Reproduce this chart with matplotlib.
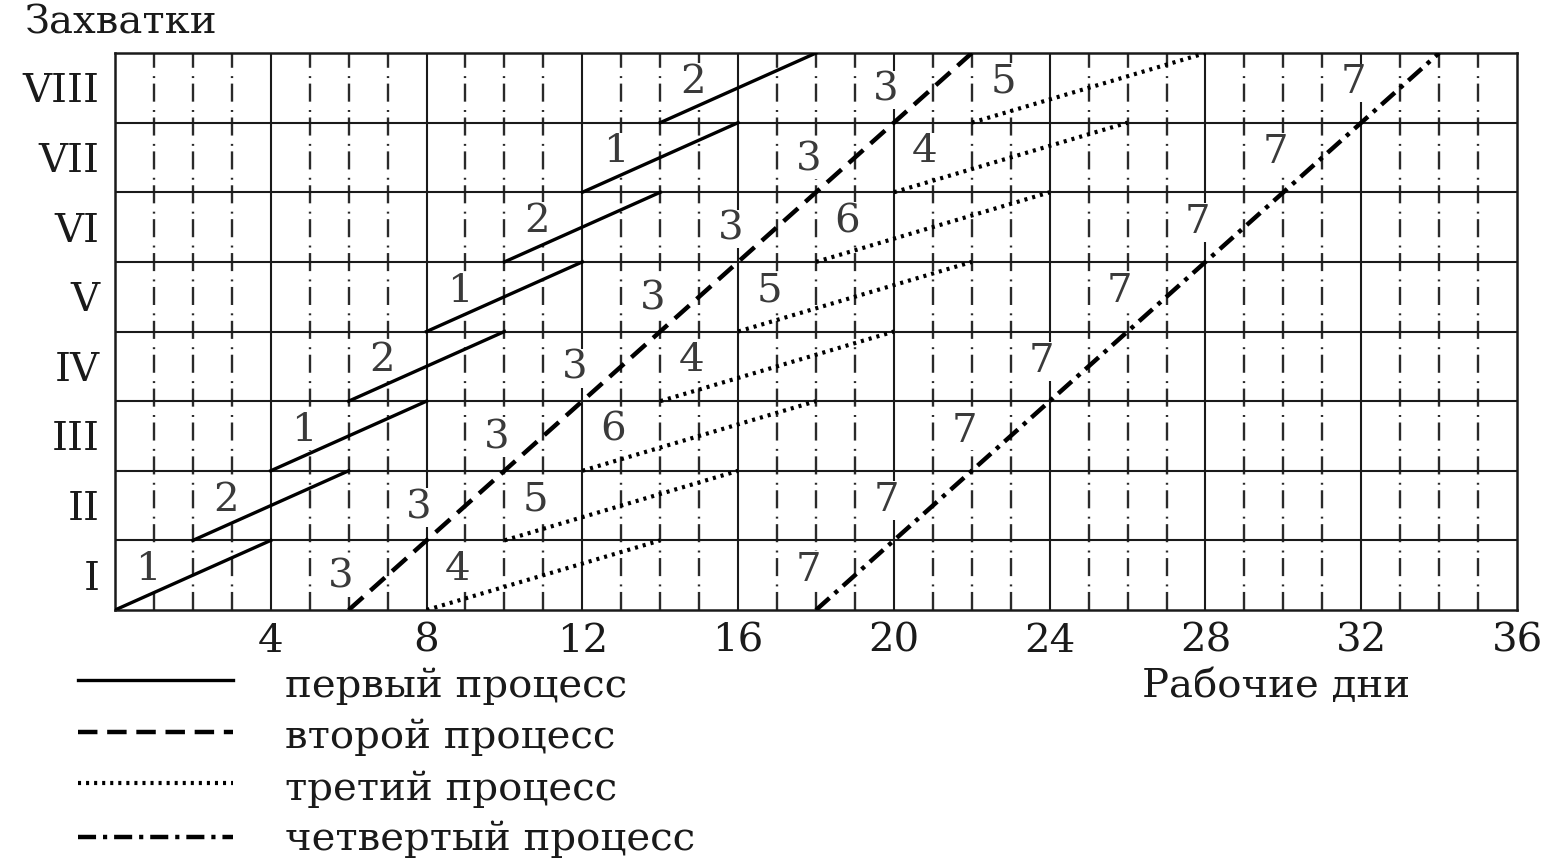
import matplotlib.pyplot as plt
from matplotlib.lines import Line2D

plt.rcParams['font.family'] = ['DejaVu Serif']
plt.rcParams['lines.scale_dashes'] = False

# data
rows = ['I', 'II', 'III', 'IV', 'V', 'VI', 'VII', 'VIII']
day_ticks = [4, 8, 12, 16, 20, 24, 28, 32, 36]
n_days = 36

# first process: two crews (1, 2), 4 days on each захватка
p1_start = [0, 2, 4, 6, 8, 10, 12, 14]
p1_dur = 4
p1_crew = ['1', '2', '1', '2', '1', '2', '1', '2']

# second process: one crew (3), 2 days on each захватка
p2_start = [6, 8, 10, 12, 14, 16, 18, 20]
p2_dur = 2
p2_crew = ['3', '3', '3', '3', '3', '3', '3', '3']

# third process: three crews (4, 5, 6), 6 days on each захватка
p3_start = [8, 10, 12, 14, 16, 18, 20, 22]
p3_dur = 6
p3_crew = ['4', '5', '6', '4', '5', '6', '4', '5']

# fourth process: one crew (7), 2 days on each захватка
p4_start = [18, 20, 22, 24, 26, 28, 30, 32]
p4_dur = 2
p4_crew = ['7', '7', '7', '7', '7', '7', '7', '7']

legend_names = ['первый процесс', 'второй процесс', 'третий процесс', 'четвертый процесс']

# styles
fs = 29
ink = '#1a1a1a'
lab_col = '#3a3a3a'
st1 = dict(color='black', lw=2.4, linestyle='-')
st2 = dict(color='black', lw=3.2, linestyle=(0, (14, 7)))
st3 = dict(color='black', lw=3.0, linestyle=(0, (2.2, 3.6)))
st4 = dict(color='black', lw=3.2, linestyle=(0, (13, 5, 3, 5)))

fig = plt.figure(figsize=(15.58, 8.61), dpi=100)
ax = fig.add_axes([0.0738, 0.2915, 0.8999, 0.6469])
ax.set_xlim(0, n_days)
ax.set_ylim(0, len(rows))

# grid
for d in range(1, n_days):
    if d % 4 == 0:
        ax.plot([d, d], [0, len(rows)], color=ink, lw=1.5, zorder=1)
    else:
        ax.plot([d, d], [0, len(rows)], color='#2a2a2a', lw=1.7,
                linestyle=(0, (13, 4, 1.4, 6)), zorder=1)
for r in range(1, len(rows)):
    ax.plot([0, n_days], [r, r], color=ink, lw=1.5, zorder=1)
for s in ax.spines.values():
    s.set_linewidth(1.8)
    s.set_color(ink)


def label(x, y, t):
    ax.text(x, y, t, fontsize=fs, color=lab_col, ha='center', va='center',
            zorder=3, bbox=dict(facecolor='white', edgecolor='none', pad=0.5))


# first and third processes: separate crews, separate segments
for starts, dur, crews, st, dx in [(p1_start, p1_dur, p1_crew, st1, 0.85),
                                    (p3_start, p3_dur, p3_crew, st3, 0.8)]:
    for i, s in enumerate(starts):
        ax.plot([s, s + dur], [i, i + 1], zorder=4, **st)
        label(s + dx, i + 0.58, crews[i])

# second and fourth processes: one crew, continuous line
for starts, dur, crews, st, dy in [(p2_start, p2_dur, p2_crew, st2, 0.47),
                                    (p4_start, p4_dur, p4_crew, st4, 0.57)]:
    xs = starts + [starts[-1] + dur]
    ax.plot(xs, list(range(len(xs))), zorder=4, **st)
    for i, s in enumerate(starts):
        label(s - 0.2, i + dy, crews[i])

ax.set_xticks(day_ticks)
ax.set_xticklabels([str(d) for d in day_ticks], fontsize=fs, color=ink)
ax.set_yticks([r + 0.5 for r in range(len(rows))])
ax.set_yticklabels(rows, fontsize=fs, color=ink)
ax.tick_params(length=0)
ax.tick_params(axis='x', pad=9)
ax.tick_params(axis='y', pad=11)

fig.text(0.016, 1 - 34 / 861, 'Захватки', fontsize=fs, color=ink, va='baseline')
fig.text(1276 / 1558, 1 - 697 / 861, 'Рабочие дни', fontsize=fs, color=ink,
         va='baseline', ha='center')

# legend
leg_line_y = [680, 732, 783, 837]
leg_text_y = [697, 748, 800, 850]
for st, ly, ty, name in zip([st1, st2, st3, st4], leg_line_y, leg_text_y, legend_names):
    fig.add_artist(Line2D([78 / 1558, 233 / 1558], [1 - ly / 861, 1 - ly / 861],
                          transform=fig.transFigure, **st))
    fig.text(285 / 1558, 1 - ty / 861, name, fontsize=fs, color=ink, va='baseline')

fig.savefig('out.png', dpi=100)
